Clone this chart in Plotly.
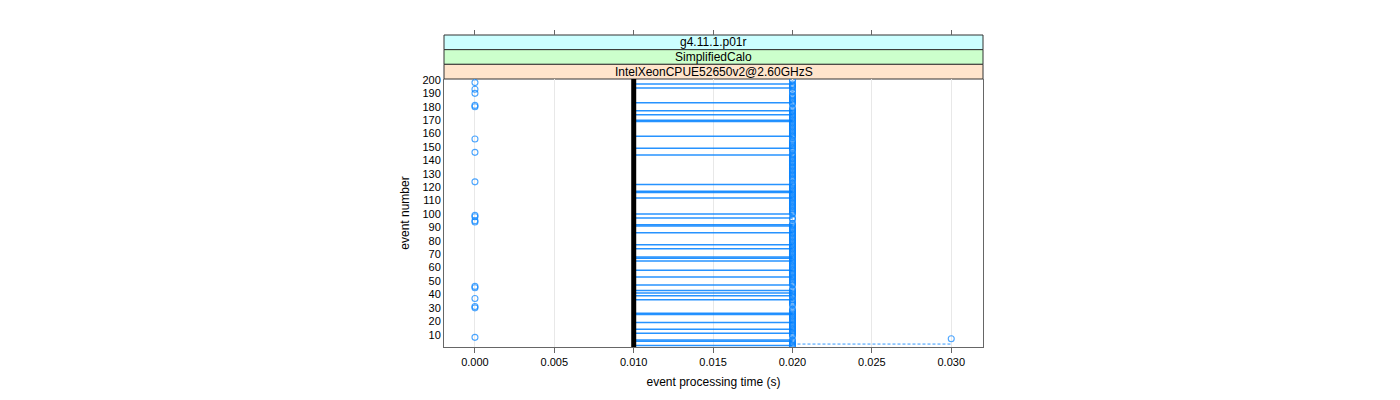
import plotly.graph_objects as go

# ---- data ----
n_events = 200
zero_time_events = [8, 30, 31, 37, 45, 46, 94, 95, 98, 99, 124, 146, 156, 180, 181, 190, 193, 198]
fast_events = [2, 5, 6, 11, 14, 19, 25, 26, 36, 39, 41, 43, 47, 53, 58, 65, 67, 68, 74, 77,
               86, 91, 92, 97, 100, 112, 116, 117, 122, 144, 149, 158, 169, 170, 174, 177,
               183, 194, 197]
slow_events = [7]
slow_link_event = 3
t_zero, t_fast, t_main, t_slow = 0.0, 0.010, 0.020, 0.030
reference_time = 0.010
x_ticks = [0.0, 0.005, 0.010, 0.015, 0.020, 0.025, 0.030]
x_tick_labels = ["0.000", "0.005", "0.010", "0.015", "0.020", "0.025", "0.030"]
y_ticks = list(range(10, 201, 10))
strip_labels = ["g4.11.1.p01r", "SimplifiedCalo", "IntelXeonCPUE52650v2@2.60GHzS"]
strip_colors = ["#CCFFFF", "#CCFFCC", "#FFE5CC"]

# ---- build per-event times ----
times = {}
for e in range(1, n_events + 1):
    times[e] = t_main
for e in zero_time_events:
    times[e] = t_zero
for e in slow_events:
    times[e] = t_slow

BLUE = "rgba(0,128,255,0.7)"
LINE_BLUE = "rgba(0,128,255,0.85)"
FONT = "Liberation Sans, Arial, Helvetica, sans-serif"

fig = go.Figure()

# horizontal segments for fast events
seg_x, seg_y = [], []
for e in fast_events:
    seg_x += [t_fast, t_main, None]
    seg_y += [e, e, None]
fig.add_trace(go.Scatter(x=seg_x, y=seg_y, mode="lines",
                         line=dict(color=LINE_BLUE, width=1.5), hoverinfo="skip",
                         showlegend=False))

# dashed link for slow event
fig.add_trace(go.Scatter(x=[t_main, t_slow], y=[slow_link_event, slow_link_event],
                         mode="lines", line=dict(color="rgba(0,128,255,0.8)", width=1, dash="3px,2px"),
                         hoverinfo="skip", showlegend=False))

# points
ev = list(times.keys())
fig.add_trace(go.Scatter(x=[times[e] for e in ev], y=ev, mode="markers",
                         marker=dict(symbol="circle-open", size=6, color=BLUE,
                                     line=dict(width=1.1, color=BLUE)),
                         hoverinfo="skip", showlegend=False))

# invisible trace on top axis so it renders
fig.add_trace(go.Scatter(x=[reference_time], y=[100], xaxis="x2", mode="markers",
                         marker=dict(opacity=0), hoverinfo="skip", showlegend=False))

# page has an 8px body offset; margins compensate
ML, MR, MT, MB = 436, 425, 27, 61
plot_h = 400 - MT - MB
panel_frac = 268 / plot_h
strip_h = (1 - panel_frac) / 3

xr = [-0.00195, 0.0320]
fig.update_layout(
    width=1400, height=400,
    margin=dict(l=ML, r=MR, t=MT, b=MB, autoexpand=False),
    paper_bgcolor="white", plot_bgcolor="white",
    font=dict(family=FONT, size=11, color="black"),
    showlegend=False,
    xaxis=dict(range=xr, tickvals=x_ticks, ticktext=x_tick_labels, ticks="outside",
               ticklen=5, tickcolor="#666666", showgrid=True, gridcolor="#E8E8E8",
               zeroline=False, showline=True, linecolor="#666666", mirror=False,
               automargin=False,
               title=dict(text="event processing time (s)", font=dict(size=12), standoff=10),
               tickfont=dict(size=11)),
    xaxis2=dict(range=xr, overlaying="x", side="top", anchor="free", position=1,
                tickvals=x_ticks, showticklabels=False, ticks="outside", ticklen=5,
                tickcolor="#666666", showgrid=False, zeroline=False, showline=False,
                automargin=False),
    yaxis=dict(range=[0.8, 200.7], domain=[0, panel_frac], tickvals=y_ticks,
               ticks="", showgrid=False, zeroline=False, showline=True,
               linecolor="#666666", mirror=True, automargin=False,
               title=dict(text="event number", font=dict(size=12), standoff=10),
               tickfont=dict(size=11)),
)

shapes = []
shapes.append(dict(type="line", xref="x", yref="y domain", x0=reference_time, x1=reference_time,
                   y0=0, y1=1, line=dict(color="black", width=5), layer="above"))
for i, (lab, col) in enumerate(zip(strip_labels, strip_colors)):
    y1 = 1 - i * strip_h
    y0 = y1 - strip_h
    shapes.append(dict(type="rect", xref="paper", yref="paper", x0=0, x1=1, y0=y0, y1=y1,
                       fillcolor=col, line=dict(color="#333333", width=1), layer="below"))
    fig.add_annotation(x=0.5, y=(y0 + y1) / 2, xref="paper", yref="paper", text=lab,
                       showarrow=False, font=dict(size=12, family=FONT, color="black"),
                       xanchor="center", yanchor="middle")
fig.update_layout(shapes=shapes)

fig.write_html("out.html", config={"displayModeBar": False})
